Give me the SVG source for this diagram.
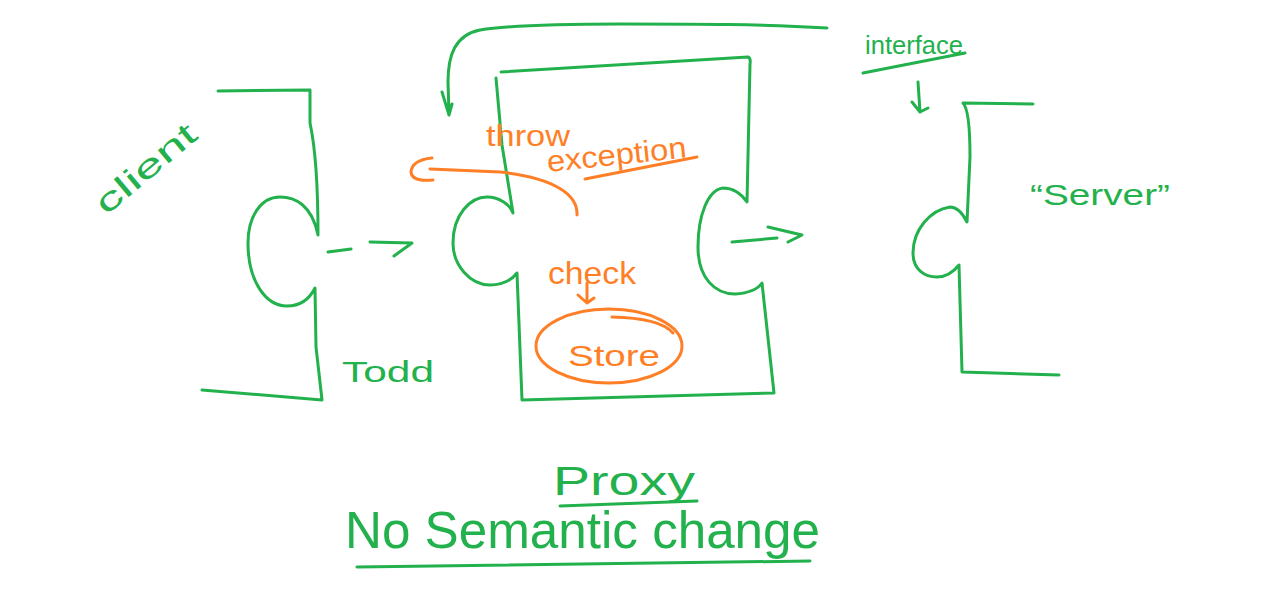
<svg xmlns="http://www.w3.org/2000/svg" width="1268" height="590" viewBox="0 0 1268 590">
<style>
.g{fill:none;stroke:#22b14c;stroke-width:3;stroke-linecap:round;stroke-linejoin:round}
.o{fill:none;stroke:#ff7f27;stroke-width:3;stroke-linecap:round;stroke-linejoin:round}
.tg{fill:#22b14c;font-family:"Liberation Sans",Arial,sans-serif}
.to{fill:#ff7f27;font-family:"Liberation Sans",Arial,sans-serif}
</style>
<rect width="1268" height="590" fill="#ffffff"/>
<g id="client">
<path class="g" d="M218,91 L310,90 L310,123 Q318,160 318,235 C312,205 295,197 280,197 C260,197 248,218 248,243 C248,280 265,306 287,306 C302,306 310,298 315,288 L316,347 L322,400 L202,390"/>
<text class="tg" font-size="32" transform="translate(106,216) rotate(-40)" textLength="122" lengthAdjust="spacingAndGlyphs">client</text>
</g>
<g id="proxy">
<path class="g" d="M501,72 L748,57 Q751,58 750,64 L747,202 C740,192 732,188 723,188 C708,190 698,215 698,247 C698,278 715,294 735,294 C750,293 758,289 762,283 L774,393 L522,400 L517,273 C510,282 500,285 490,285 C470,285 453,265 453,243 C453,215 470,197 487,197 C500,197 510,205 513,213 L502,145 L496,78"/>
<text class="to" font-size="30" x="486" y="146" textLength="84" lengthAdjust="spacingAndGlyphs">throw</text>
<text class="to" font-size="30" transform="translate(548,172) rotate(-6)" textLength="140" lengthAdjust="spacingAndGlyphs">exception</text>
<path class="o" d="M585,179 L697,157"/>
<path class="o" d="M432,158 Q412,160 411,172 Q412,182 433,180"/>
<path class="o" d="M430,169 L500,172 C555,178 578,195 577,215"/>
<text class="to" font-size="32" x="548" y="284" textLength="88" lengthAdjust="spacingAndGlyphs">check</text>
<path class="o" d="M587,283 L587,303 M578,295 L587,303 L594,298"/>
<ellipse class="o" cx="609" cy="346" rx="73" ry="37"/>
<path class="o" d="M612,317 Q660,318 673,333"/>
<text class="to" font-size="30" x="568" y="366" textLength="92" lengthAdjust="spacingAndGlyphs">Store</text>
<text class="tg" font-size="30" x="342" y="382" textLength="92" lengthAdjust="spacingAndGlyphs">Todd</text>
</g>
<g id="server">
<path class="g" d="M1033,104 L963,103 Q970,110 970,157 L967,222 C962,212 957,207 950,207 C930,210 913,230 913,253 C913,270 925,277 937,277 C948,277 955,270 959,265 L962,372 L1059,375"/>
<text class="tg" font-size="30" x="1030" y="205" textLength="140" lengthAdjust="spacingAndGlyphs">“Server”</text>
</g>
<g id="interface">
<text class="tg" font-size="26" x="865" y="54" textLength="98" lengthAdjust="spacingAndGlyphs">interface</text>
<path class="g" d="M863,73 L965,53"/>
</g>
<g id="connectors">
<path class="g" d="M328,252 L351,249 M370,242 L412,243 L394,256"/>
<path class="g" d="M732,242 L777,238 M768,227 L802,235 L788,242"/>
<path class="g" d="M827,28 C760,24 700,24 620,24 C560,24 510,25 480,30 C455,35 448,55 448,82 L449,115 M442,92 L449,115 L452,104"/>
<path class="g" d="M918,82 L920,112 M912,102 L920,112 L928,108"/>
</g>
<g id="caption">
<text class="tg" font-size="40" x="553" y="495" textLength="142" lengthAdjust="spacingAndGlyphs">Proxy</text>
<path class="g" d="M560,506 L697,501"/>
<text class="tg" font-size="52" x="345" y="548" textLength="475" lengthAdjust="spacingAndGlyphs">No Semantic change</text>
<path class="g" d="M357,567 L810,561"/>
</g>
</svg>
